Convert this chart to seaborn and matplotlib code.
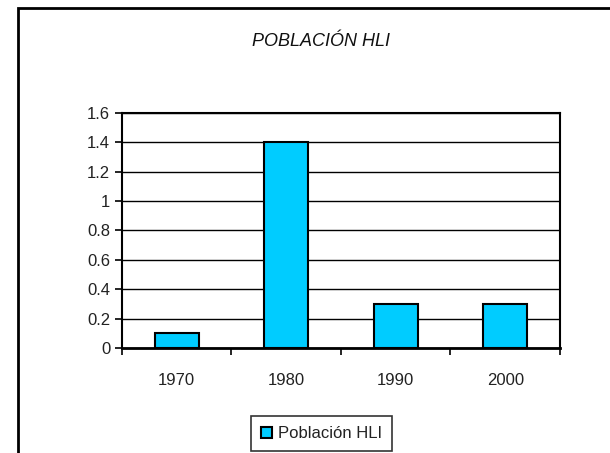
import matplotlib
matplotlib.use("Agg")
import matplotlib.pyplot as plt
from matplotlib.patches import Rectangle
import seaborn as sns
import pandas as pd
import numpy as np

years = ["1970", "1980", "1990", "2000"]
values = [0.1, 1.4, 0.3, 0.3]
y_ticks = [0, 0.2, 0.4, 0.6, 0.8, 1, 1.2, 1.4, 1.6]
y_labels = ["0", "0.2", "0.4", "0.6", "0.8", "1", "1.2", "1.4", "1.6"]
series_name = "Población HLI"
title = "POBLACIÓN HLI"

sns.set_style("white")
plt.rcParams['font.family'] = ['Liberation Sans', 'DejaVu Sans']

df = pd.DataFrame({"year": years, "value": values})

fig = plt.figure(figsize=(6.1, 4.53), dpi=100)
ax = fig.add_axes([0.2, 0.2318, 0.718, 0.519])

# gridlines behind bars
ax.set_axisbelow(True)
ax.yaxis.grid(True, color="black", linewidth=1)

sns.barplot(data=df, x="year", y="value", color="#00CCFF", width=0.4,
            edgecolor="black", linewidth=1.5, saturation=1, ax=ax,
            label=series_name)

ax.set_xlim(-0.5, 3.5)
ax.set_ylim(0, 1.6)
ax.set_yticks(y_ticks)
ax.set_yticklabels(y_labels)
ax.set_xlabel("")
ax.set_ylabel("")

# category boundary ticks on x axis
ax.set_xticks(np.arange(-0.5, 4, 1), minor=True)
ax.tick_params(axis="x", which="major", length=0, pad=18, labelsize=12,
               labelcolor="#222222")
ax.tick_params(axis="x", which="minor", length=5, width=1.2, direction="out",
               bottom=True, color="black")
ax.tick_params(axis="y", length=5, width=1.2, direction="out", left=True,
               labelsize=12, pad=3.5, color="black", labelcolor="#222222")

for side in ["left", "bottom", "top", "right"]:
    ax.spines[side].set_visible(True)
    ax.spines[side].set_color("black")
ax.spines["left"].set_linewidth(1.5)
ax.spines["bottom"].set_linewidth(2)
ax.spines["top"].set_linewidth(1.5)
ax.spines["right"].set_linewidth(1.5)

fig.text(0.527, 0.908, title, ha="center", va="center", fontsize=13,
         style="italic", color="#111111")

leg = ax.legend(loc="center", bbox_to_anchor=(0.527, 0.042),
                bbox_transform=fig.transFigure, frameon=True, fontsize=12,
                handlelength=0.7, handleheight=0.7, handletextpad=0.35,
                fancybox=False, borderpad=0.6)
leg.get_frame().set_edgecolor("black")
leg.get_frame().set_linewidth(1.2)
for t in leg.get_texts():
    t.set_color("#222222")

# outer chart-area border
fig.patches.append(Rectangle((18 / 610, -0.05), 1.0, 1 - 8 / 453 + 0.05,
                             transform=fig.transFigure, fill=False,
                             edgecolor="black", linewidth=2, clip_on=False))

fig.savefig("out.png", dpi=100)
